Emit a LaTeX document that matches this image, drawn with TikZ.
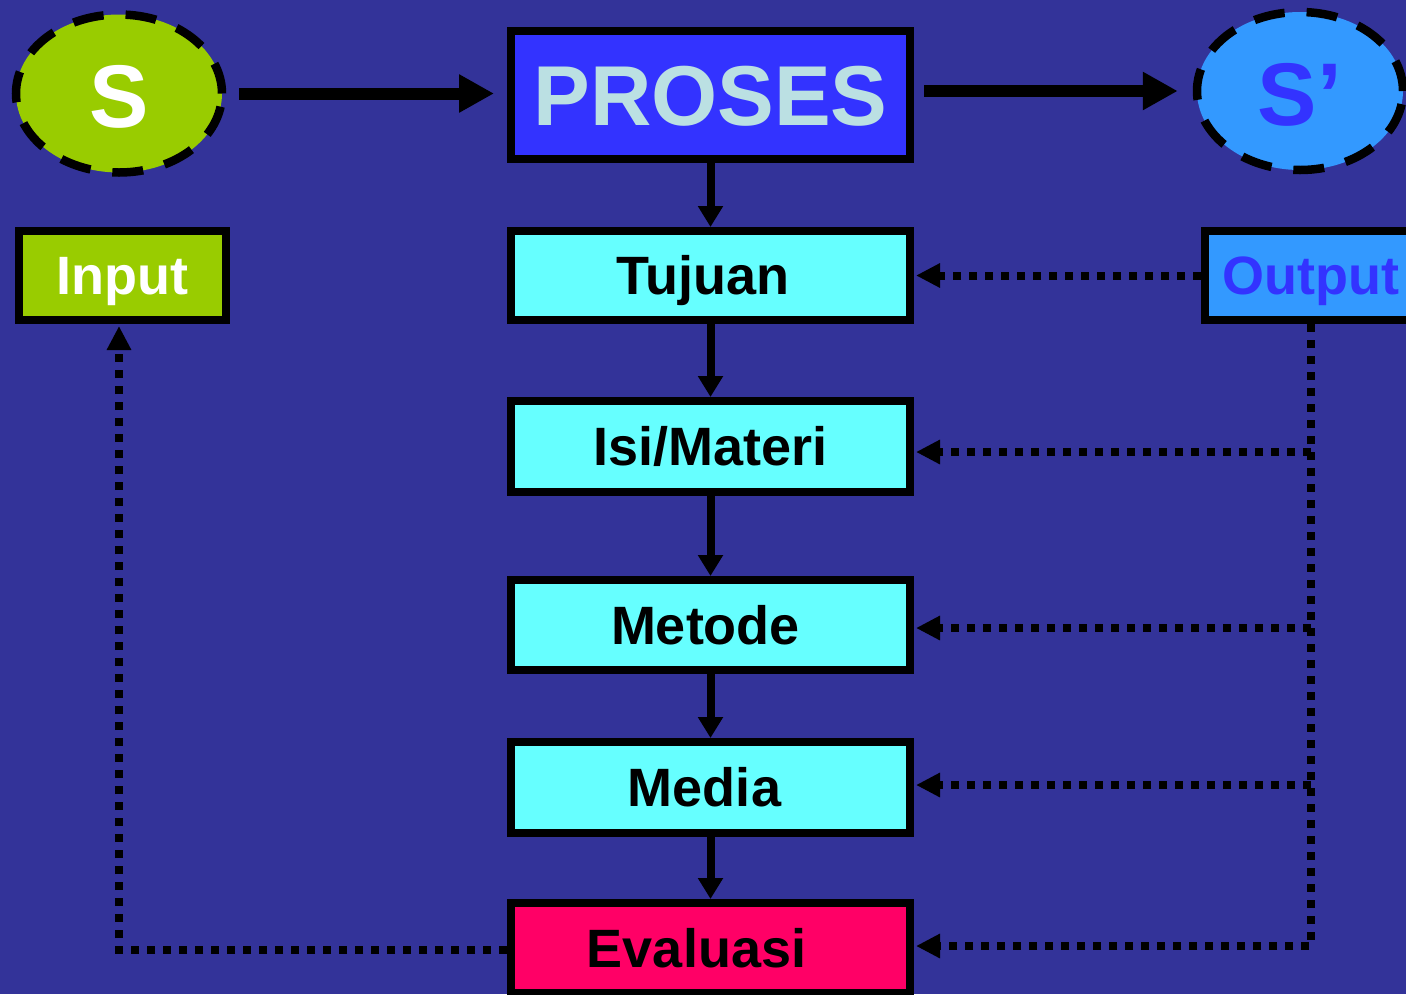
\documentclass[tikz,border=0pt]{standalone}
\usepackage{fontspec}
\setmainfont{Liberation Sans}
\usetikzlibrary{arrows.meta,shapes.geometric}

\definecolor{bgblue}{RGB}{51,51,153}
\definecolor{limegreen}{RGB}{153,204,0}
\definecolor{royal}{RGB}{51,51,255}
\definecolor{sky}{RGB}{51,153,255}
\definecolor{aqua}{RGB}{102,255,255}
\definecolor{hotpink}{RGB}{255,0,102}
\definecolor{paleblue}{RGB}{187,224,227}

\begin{document}
\begin{tikzpicture}[x=1pt,y=-1pt,
  oval/.style={ellipse, draw=black, line width=8.5pt, dash pattern=on 31pt off 22pt,
    minimum width=206pt, minimum height=158pt, inner sep=0pt,
    font=\bfseries\fontsize{89}{96}\selectfont, text depth=0pt},
  box/.style={rectangle, draw=black, line width=8pt, minimum width=399pt,
    minimum height=90pt, inner sep=0pt, text height=38.7pt, text depth=0pt,
    font=\bfseries\fontsize{54}{60}\selectfont},
  stage/.style={box, fill=aqua, text=black},
  flow/.style={line width=8pt, -{Triangle[length=21pt,width=24pt]}},
  bigflow/.style={line width=12pt, -{Triangle[length=35pt,width=36pt]}},
  feedback/.style={line width=8pt, dash pattern=on 8pt off 8pt,
    -{Triangle[length=24pt,width=23pt]}, shorten >=2pt},
]
% background
\fill[bgblue] (0,0) rectangle (1406,994);
\useasboundingbox (0,0) rectangle (1406,994);

% top row
\node[oval, fill=limegreen, text=white, text height=67.7pt] (S) at (119,93.5) {S};
\node[box, fill=royal, text=paleblue, minimum height=128pt,
  font=\bfseries\fontsize{85}{92}\selectfont, text height=60.9pt] (P) at (710.5,95) {PROSES};
\node[oval, fill=sky, text=royal, text height=69.7pt] (Sp) at (1300,91) {S’};

% side boxes
\node[box, fill=limegreen, text=white, minimum width=207pt, minimum height=89pt] (inp) at (122.5,275.5) {Input};
\node[box, fill=sky, text=royal, minimum width=212pt, minimum height=89pt] (out) at (1311,275.5) {Output};

% process stages
\node[stage, minimum height=89pt] (tuj) at (710.5,275.5) {\hspace*{-16pt}Tujuan};
\node[stage, minimum height=91pt] (isi) at (710.5,446.5) {Isi/Materi};
\node[stage] (met) at (710.5,625) {\hspace*{-10pt}Metode};
\node[stage, minimum height=91pt] (med) at (710.5,787.5) {\hspace*{-12pt}Media};
\node[box, fill=hotpink, text=black] (eva) at (710.5,948) {\hspace*{-28pt}Evaluasi};

% entry points of the feedback lines
\coordinate (isiIn) at ([yshift=-5.5pt]isi.east);
\coordinate (metIn) at ([yshift=-3pt]met.east);
\coordinate (medIn) at ([yshift=2.5pt]med.east);
\coordinate (evaIn) at ([yshift=2pt]eva.east);
\coordinate (evaOut) at ([yshift=-2pt]eva.west);
\coordinate (inpIn) at ([xshift=-3.5pt]inp.south);

% main flow
\draw[bigflow, shorten <=13pt, shorten >=13pt] (S.east) -- (S.east -| P.west);
\draw[bigflow, shorten <=10pt, shorten >=15pt] (P.east |- Sp.west) -- (Sp.west);
\draw[flow] (P) -- (tuj);
\draw[flow] (tuj) -- (isi);
\draw[flow] (isi) -- (met);
\draw[flow] (met) -- (med);
\draw[flow] (med) -- (eva);

% feedback from the output
\draw[feedback] (out.west) -- (tuj.east);
\draw[feedback] (out.south) |- (evaIn);
\draw[feedback] (out.south |- isiIn) -- (isiIn);
\draw[feedback] (out.south |- metIn) -- (metIn);
\draw[feedback] (out.south |- medIn) -- (medIn);

% evaluation back to the input
\draw[feedback] (evaOut) -| (inpIn);
\end{tikzpicture}
\end{document}
